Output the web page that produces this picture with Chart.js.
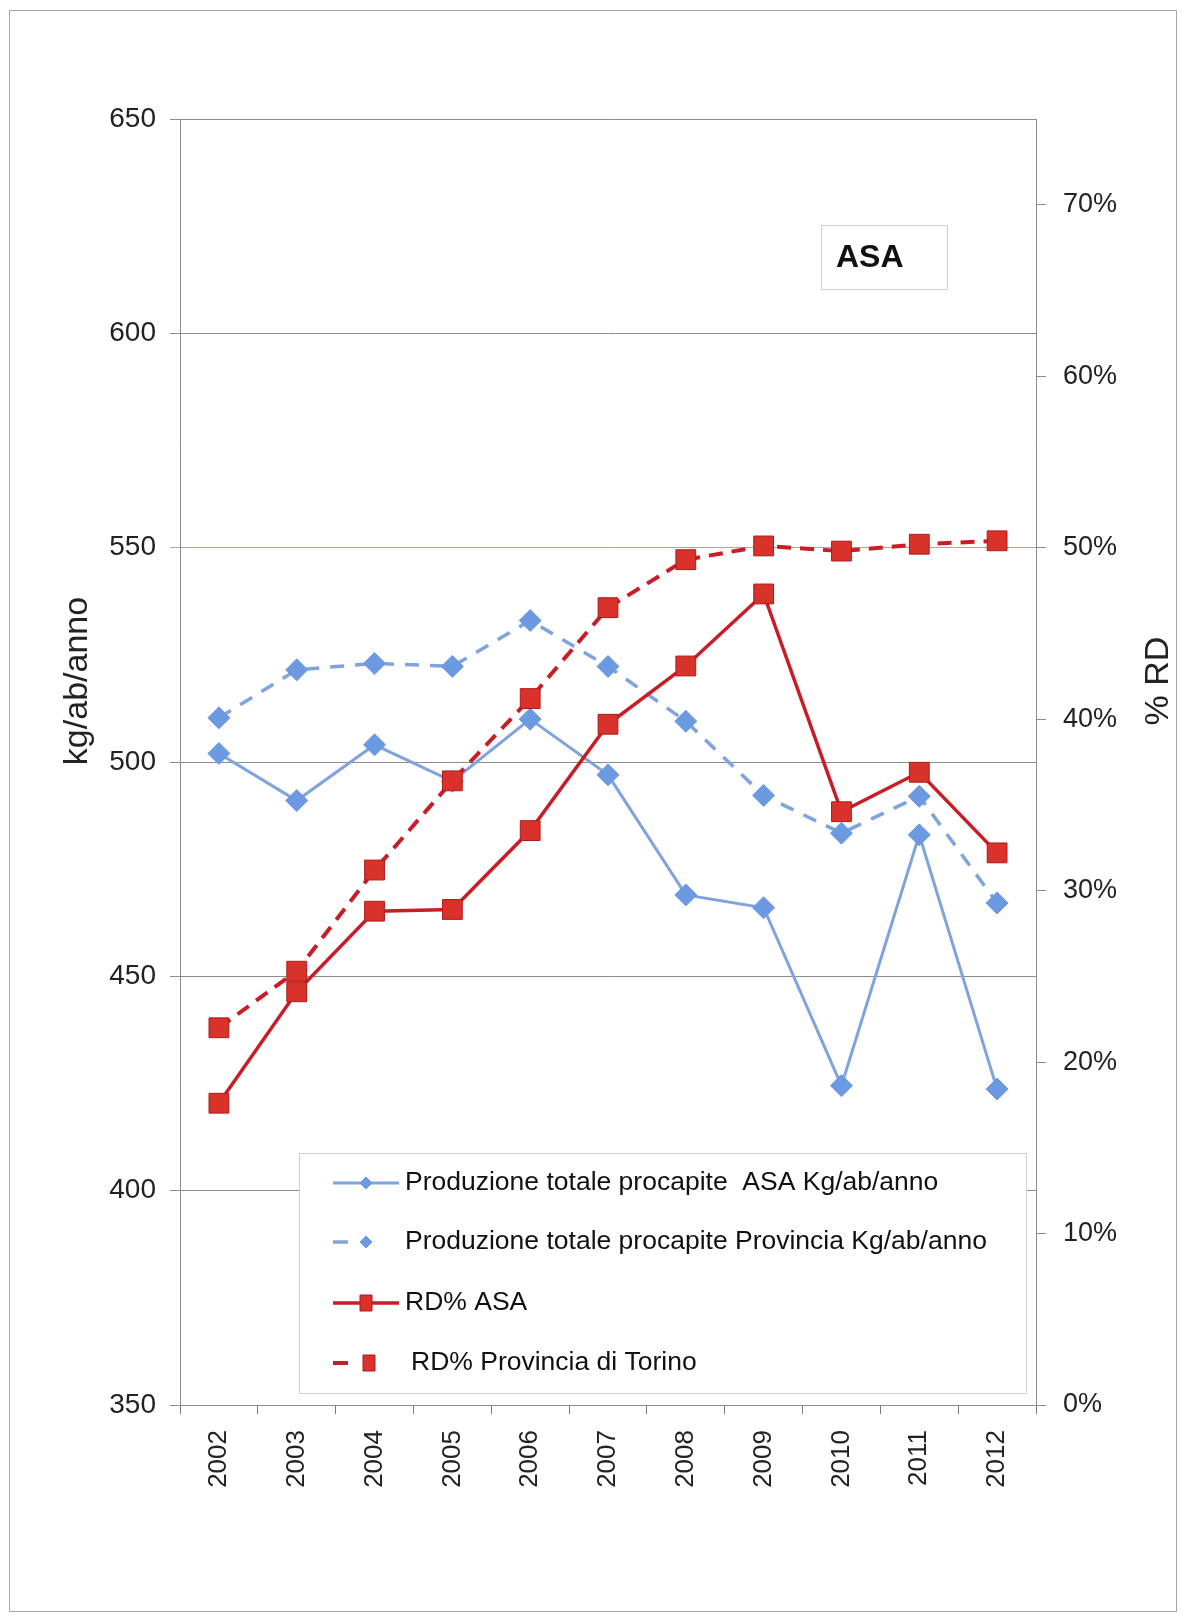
<!DOCTYPE html>
<html lang="it">
<head>
<meta charset="utf-8">
<title>ASA - produzione procapite e RD%</title>
<script src="https://cdn.jsdelivr.net/npm/chart.js@4.4.1/dist/chart.umd.min.js"></script>
<style>
  html, body { margin: 0; padding: 0; background: #fff; }
  #contenitore { position: relative; width: 1183px; height: 1618px; }
</style>
</head>
<body>
<div id="contenitore"><canvas id="grafico"></canvas></div>
<script>
// dati
const anni = ['2002', '2003', '2004', '2005', '2006', '2007', '2008', '2009', '2010', '2011', '2012'];
const prodAsa = [502, 491, 504, 495.5, 510, 497, 469, 466, 424.5, 483, 423.7];
const prodProvincia = [510.3, 521.5, 523, 522.3, 533, 522.3, 509.5, 492.2, 483.4, 492, 467.1];
const rdAsa = [17.6, 24.1, 28.8, 28.9, 33.5, 39.7, 43.1, 47.3, 34.6, 36.9, 32.2];
const rdProvincia = [22.0, 25.3, 31.2, 36.4, 41.2, 46.5, 49.3, 50.1, 49.8, 50.2, 50.4];
const tickKg = [350, 400, 450, 500, 550, 600, 650];
const tickRd = [0, 10, 20, 30, 40, 50, 60, 70];

const etichette = [
    'Produzione totale procapite  ASA Kg/ab/anno',
    'Produzione totale procapite Provincia Kg/ab/anno',
    'RD% ASA',
    'RD% Provincia di Torino'
];

const BLU_LINEA = 'rgb(126,163,222)';
const BLU_PUNTO = 'rgb(108,154,226)';
const ROSSO_LINEA = 'rgb(202,28,38)';
const ROSSO_PUNTO = 'rgb(216,50,42)';
const ROSSO_BORDO = 'rgb(170,28,28)';

// marcatore piccolo per la legenda (rombo o rettangolo)
function marcatore(ctx, ds, x, y) {
    ctx.save();
    ctx.fillStyle = ds.backgroundColor;
    ctx.strokeStyle = ds.pointBorderColor;
    ctx.lineWidth = 1;
    ctx.beginPath();
    if (ds.pointStyle === 'rectRot') {
        const r = 6;
        ctx.moveTo(x, y - r); ctx.lineTo(x + r, y); ctx.lineTo(x, y + r); ctx.lineTo(x - r, y);
    } else {
        ctx.rect(x - 6, y - 8, 12, 16);
    }
    ctx.closePath();
    ctx.fill();
    ctx.stroke();
    ctx.restore();
}

// cornice, riquadro "ASA", legenda e titoli degli assi
const decorazioni = {
    id: 'decorazioni',
    beforeDraw(chart) {
        const ctx = chart.ctx;
        ctx.save();
        ctx.fillStyle = '#fff';
        ctx.fillRect(0, 0, chart.width, chart.height);
        ctx.strokeStyle = '#a8a8a8';
        ctx.lineWidth = 1;
        ctx.strokeRect(9.5, 10.5, 1167, 1601);
        ctx.restore();
    },
    afterDatasetsDraw(chart) {
        const ctx = chart.ctx;
        const ds = chart.data.datasets;
        ctx.save();

        // riquadro ASA
        ctx.fillStyle = '#fff';
        ctx.fillRect(821, 225, 126, 64);
        ctx.strokeStyle = '#cfcfcf';
        ctx.lineWidth = 1;
        ctx.strokeRect(821.5, 225.5, 126, 64);
        ctx.fillStyle = '#111';
        ctx.font = 'bold 32px "Liberation Sans", Arial, sans-serif';
        ctx.textBaseline = 'alphabetic';
        ctx.textAlign = 'left';
        ctx.fillText('ASA', 836, 267);

        // legenda
        ctx.fillStyle = '#fff';
        ctx.fillRect(299, 1153, 727, 240);
        ctx.strokeStyle = '#d0d0d0';
        ctx.strokeRect(299.5, 1153.5, 727, 240);
        const righe = [1183, 1242, 1303, 1363];
        ds.forEach((d, i) => {
            const y = righe[i];
            const tratteggio = d.borderDash && d.borderDash.length;
            ctx.strokeStyle = d.borderColor;
            ctx.lineWidth = d.borderWidth;
            ctx.beginPath();
            ctx.moveTo(333, y);
            ctx.lineTo(tratteggio ? 348 : 399, y);
            ctx.stroke();
            marcatore(ctx, d, tratteggio && i === 3 ? 369 : 366, y);
            ctx.fillStyle = '#111';
            ctx.font = '26.5px "Liberation Sans", Arial, sans-serif';
            ctx.textBaseline = 'middle';
            ctx.fillText(d.label, i === 3 ? 411 : 405, y);
        });

        // titoli degli assi, entrambi letti dal basso verso l'alto
        ctx.fillStyle = '#222';
        ctx.font = '34px "Liberation Sans", Arial, sans-serif';
        ctx.textAlign = 'center';
        ctx.textBaseline = 'middle';
        [[78, 'kg/ab/anno'], [1159, '% RD']].forEach(([x, t]) => {
            ctx.save();
            ctx.translate(x, 681);
            ctx.rotate(-Math.PI / 2);
            ctx.fillText(t, 0, 0);
            ctx.restore();
        });
        ctx.restore();
    }
};

const ctx = document.getElementById('grafico');
new Chart(ctx, {
    type: 'line',
    data: {
        labels: anni,
        datasets: [{
            label: etichette[0],
            data: prodAsa,
            yAxisID: 'y',
            borderColor: BLU_LINEA,
            backgroundColor: BLU_PUNTO,
            pointBorderColor: BLU_PUNTO,
            borderWidth: 3,
            pointStyle: 'rectRot',
            pointRadius: 11,
            pointBorderWidth: 1,
            order: 4
        }, {
            label: etichette[1],
            data: prodProvincia,
            yAxisID: 'y',
            borderColor: BLU_LINEA,
            backgroundColor: BLU_PUNTO,
            pointBorderColor: BLU_PUNTO,
            borderWidth: 3.5,
            borderDash: [14, 11],
            pointStyle: 'rectRot',
            pointRadius: 11,
            pointBorderWidth: 1,
            order: 3
        }, {
            label: etichette[2],
            data: rdAsa,
            yAxisID: 'y1',
            borderColor: ROSSO_LINEA,
            backgroundColor: ROSSO_PUNTO,
            pointBorderColor: ROSSO_BORDO,
            borderWidth: 3.5,
            pointStyle: 'rect',
            pointRadius: 14,
            pointBorderWidth: 1,
            order: 2
        }, {
            label: etichette[3],
            data: rdProvincia,
            yAxisID: 'y1',
            borderColor: ROSSO_LINEA,
            backgroundColor: ROSSO_PUNTO,
            pointBorderColor: ROSSO_BORDO,
            borderWidth: 4,
            borderDash: [14, 9],
            pointStyle: 'rect',
            pointRadius: 14,
            pointBorderWidth: 1,
            order: 1
        }]
    },
    options: {
        responsive: true,
        maintainAspectRatio: false,
        devicePixelRatio: 1,
        animation: false,
        layout: { padding: { top: 119, left: 0, right: 0, bottom: 0 } },
        plugins: {
            legend: { display: false },
            tooltip: { enabled: false }
        },
        scales: {
            x: {
                offset: true,
                grid: { offset: true, drawOnChartArea: false, tickLength: 9, color: '#7a7a7a' },
                border: { color: '#8a8a8a' },
                ticks: {
                    minRotation: 90,
                    maxRotation: 90,
                    autoSkip: false,
                    padding: 16,
                    color: '#222',
                    font: { family: '"Liberation Sans", Arial, sans-serif', size: 26 }
                },
                afterFit: s => { s.height = 213; }
            },
            y: {
                position: 'left',
                min: 350,
                max: 650,
                afterBuildTicks: s => { s.ticks = tickKg.map(v => ({ value: v })); },
                grid: {
                    color: c => c.tick && c.tick.value === 550 ? '#b3ab78' : '#8c8c8c',
                    tickLength: 10
                },
                border: { color: '#8a8a8a' },
                ticks: {
                    padding: 14,
                    color: '#222',
                    font: { family: '"Liberation Sans", Arial, sans-serif', size: 28 }
                },
                afterFit: s => { s.width = 180; }
            },
            y1: {
                position: 'right',
                min: 0,
                max: 75,
                afterBuildTicks: s => { s.ticks = tickRd.map(v => ({ value: v })); },
                grid: { drawOnChartArea: false, tickLength: 10, color: '#8c8c8c' },
                border: { color: '#8a8a8a' },
                ticks: {
                    padding: 17,
                    color: '#222',
                    callback: v => v + '%',
                    font: { family: '"Liberation Sans", Arial, sans-serif', size: 27 }
                },
                afterFit: s => { s.width = 147; }
            }
        }
    },
    plugins: [decorazioni]
});
</script>
</body>
</html>
